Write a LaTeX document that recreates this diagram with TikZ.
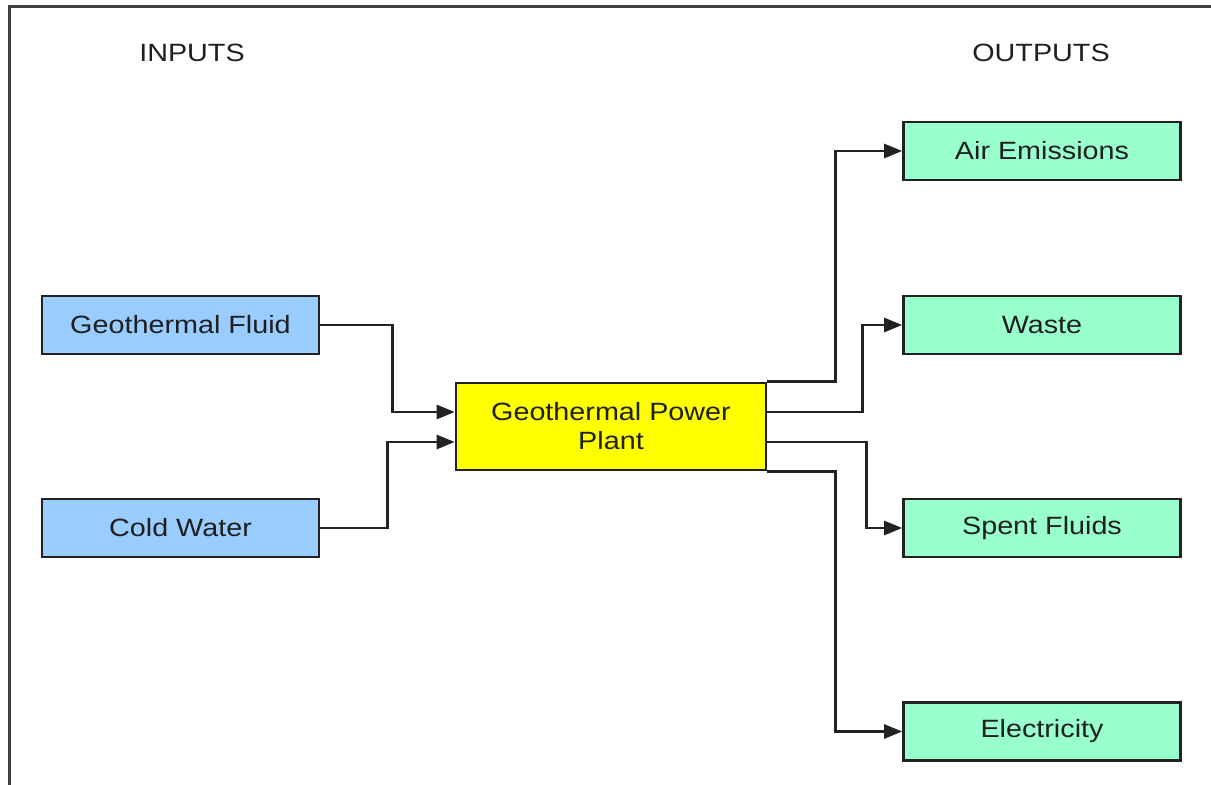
\documentclass[tikz,border=0pt]{standalone}
\usepackage{fontspec}
\setmainfont{Liberation Sans}[FakeStretch=1.15]
\usepackage{tikz}
\usetikzlibrary{arrows.meta}
\definecolor{inblue}{HTML}{99CCFF}
\definecolor{plantyellow}{HTML}{FFFF00}
\definecolor{outgreen}{HTML}{99FFCC}
\definecolor{linegray}{HTML}{222222}

\begin{document}
\begin{tikzpicture}[
  x=1pt, y=-1pt,
  box/.style  = {draw=linegray, line width=2.6pt, align=center, inner sep=0pt,
                 minimum width=277pt, minimum height=58pt,
                 font=\fontsize{25}{29}\selectfont, text=black!88},
  inbox/.style  = {box, fill=inblue},
  outbox/.style = {box, fill=outgreen},
  plantbox/.style = {box, fill=plantyellow, minimum width=310pt, minimum height=87pt},
  head/.style = {font=\fontsize{25}{29}\selectfont, text=black!88},
  arr/.style  = {-{Triangle[length=18pt,width=14pt]}, line width=2.6pt, linegray},
]
\useasboundingbox (0,0) rectangle (1211,785);
% frame (only left and top edges show)
\draw[line width=3pt, black!75] (9,785) -- (9,6) -- (1211,6);
% headings
\node[head] (inputs)  at (192,53)  {INPUTS};
\node[head] (outputs) at (1041,53) {OUTPUTS};
% inputs
\node[inbox] (fluid) at (180.5,325) {Geothermal Fluid};
\node[inbox] (cold)  at (180.5,528) {Cold Water};
% plant
\node[plantbox] (plant) at (611,426.5) {Geothermal Power\\ Plant};
% outputs
\node[outbox] (air)   at (1042,151)   {Air Emissions};
\node[outbox] (waste) at (1042,325)   {Waste};
\node[outbox] (spent) at (1042,528)   {Spent Fluids};
\node[outbox] (elec)  at (1042,731.5) {Electricity};
% edges
\draw[arr] (fluid.east) -- ++(72,0) |- ([yshift=14.5pt]plant.west);
\draw[arr] (cold.east) -- ++(67,0) |- ([yshift=-15.5pt]plant.west);
\draw[arr] (plant.north east) -- ++(68,0) |- (air.west);
\draw[arr] ([yshift=14.5pt]plant.east) -- ++(95,0) |- (waste.west);
\draw[arr] ([yshift=-15.5pt]plant.east) -- ++(99,0) |- (spent.west);
\draw[arr] (plant.south east) -- ++(68,0) |- (elec.west);
\end{tikzpicture}
\end{document}
